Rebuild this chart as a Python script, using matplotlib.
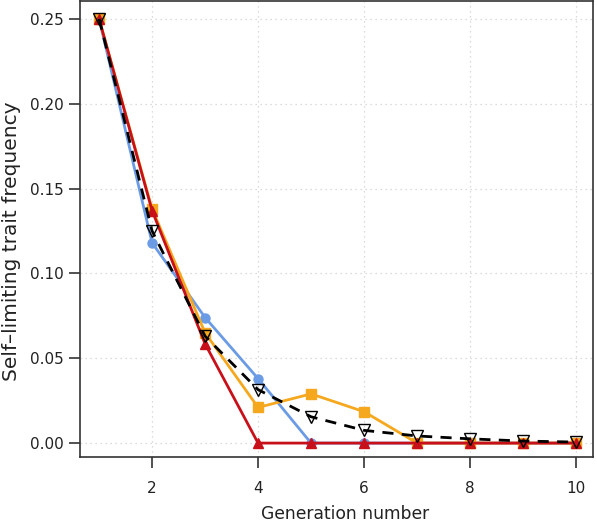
import matplotlib
matplotlib.use("Agg")
import matplotlib.pyplot as plt

# generation number
generation = [1, 2, 3, 4, 5, 6, 7, 8, 9, 10]

# self-limiting trait frequency, one list per run
freq_blue = [0.25, 0.118, 0.074, 0.038, 0.0, 0.0, 0.0, 0.0, 0.0, 0.0]
freq_orange = [0.25, 0.138, 0.065, 0.021, 0.029, 0.0185, 0.0, 0.0, 0.0, 0.0]
freq_mean = [0.25, 0.125, 0.063, 0.0315, 0.0155, 0.0075, 0.0042, 0.0025, 0.0012, 0.0006]
freq_red = [0.25, 0.137, 0.0585, 0.0, 0.0, 0.0, 0.0, 0.0, 0.0, 0.0]

x_ticks = [2, 4, 6, 8, 10]
y_ticks = [0.00, 0.05, 0.10, 0.15, 0.20, 0.25]

plt.rcParams['font.family'] = ['DejaVu Sans']

fig = plt.figure(figsize=(5.97, 5.24), dpi=100)
ax = fig.add_axes([80 / 597, 1 - 457 / 524, 513 / 597, 456 / 524])

ax.plot(generation, freq_blue, '-o', color='#6c9be6', lw=2, ms=6.5, zorder=3)
ax.plot(generation, freq_orange, '-s', color='#f5a81e', lw=2, ms=6.5, zorder=3)
ax.plot(generation, freq_red, '-^', color='#c8101a', lw=2, ms=7.5, zorder=4)
ax.plot(generation, freq_mean, '--v', color='black', lw=2, ms=9,
        markerfacecolor='none', markeredgewidth=1, dashes=(4, 3), zorder=5)

ax.set_xlim(0.64, 10.32)
ax.set_ylim(-0.0082, 0.2605)
ax.set_xticks(x_ticks)
ax.set_yticks(y_ticks)
ax.set_yticklabels([f'{v:.2f}' for v in y_ticks])

ax.grid(True, color='#d0d0d0', linestyle=(0, (1, 3)), lw=0.9)
ax.set_axisbelow(True)

for side in ['left', 'bottom', 'right', 'top']:
    ax.spines[side].set_color('#333333')
    ax.spines[side].set_linewidth(1.2)
ax.tick_params(axis='both', direction='out', length=8, width=1.2,
               color='#333333', labelsize=11, labelcolor='#222222')
ax.tick_params(axis='x', pad=9)
ax.tick_params(axis='y', pad=4)

ax.set_xlabel('Generation number', fontsize=12.3, color='#222222',
              va='top')
ax.xaxis.set_label_coords(0.516, -0.105)
ax.set_ylabel('Self\u2013limiting trait frequency', fontsize=14.5,
              color='#222222', va='center')
ax.yaxis.set_label_coords(-0.133, 0.473)

fig.savefig('out.png', dpi=100)
